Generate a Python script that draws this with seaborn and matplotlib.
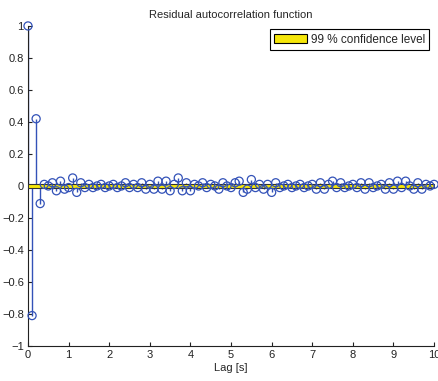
import numpy as np
import pandas as pd
import matplotlib
matplotlib.use("Agg")
import matplotlib.pyplot as plt
from matplotlib.patches import Patch
from matplotlib.ticker import FuncFormatter
import seaborn as sns

# Residual autocorrelation at lags 0..10 s, step 0.1 s
lags = [round(0.1 * i, 1) for i in range(101)]
acf = [
    1.00, -0.81, 0.42, -0.11, 0.01, 0.00, 0.02, -0.03, 0.03, -0.02,
    -0.01, 0.05, -0.04, 0.02, -0.01, 0.01, -0.01, 0.00, 0.01, -0.01,
    0.00, 0.01, -0.01, 0.00, 0.02, -0.01, 0.01, -0.01, 0.02, -0.02,
    0.01, -0.02, 0.03, -0.02, 0.03, -0.03, 0.01, 0.05, -0.03, 0.02,
    -0.03, 0.01, 0.00, 0.02, -0.01, 0.01, 0.00, -0.02, 0.02, 0.00,
    -0.01, 0.02, 0.03, -0.04, -0.02, 0.04, -0.01, 0.01, -0.02, 0.01,
    -0.04, 0.02, -0.01, 0.00, 0.01, -0.01, 0.00, 0.01, -0.01, 0.00,
    0.01, -0.02, 0.02, -0.02, 0.01, 0.03, -0.01, 0.02, -0.01, 0.00,
    0.01, -0.01, 0.02, -0.02, 0.02, -0.01, 0.00, 0.01, -0.02, 0.02,
    -0.02, 0.03, -0.01, 0.03, 0.00, -0.02, 0.02, -0.02, 0.01, 0.00,
    0.01,
]
conf_level = 0.013  # 99 % confidence bound
xticks = list(range(0, 11))
yticks = [round(-1 + 0.2 * i, 1) for i in range(11)]

df = pd.DataFrame({"lag": lags, "acf": acf})

sns.set_style("ticks")
plt.rcParams["font.family"] = ["Liberation Sans", "DejaVu Sans"]

fig = plt.figure(figsize=(4.39, 3.81), dpi=100)
ax = fig.add_axes([0.0638, 0.0919, 0.925, 0.84])

stem_color = "#3352b8"
ax.vlines(df["lag"], 0, df["acf"], color=stem_color, lw=1.0, zorder=2)
sns.scatterplot(data=df, x="lag", y="acf", ax=ax, marker="o", s=34,
                facecolor="none", edgecolor=stem_color, linewidth=0.9,
                zorder=4, legend=False, clip_on=False)

ax.fill_between([0, 10], -conf_level, conf_level, facecolor="#f5e60a",
                edgecolor="#333333", lw=0.8, zorder=3)

ax.set_xlim(0, 10)
ax.set_ylim(-1, 1)
ax.set_xticks(xticks)
ax.set_yticks(yticks)
ax.yaxis.set_major_formatter(FuncFormatter(
    lambda v, p: ("%g" % round(v, 1)).replace("-", "\u2212") if abs(v) > 1e-9 else "0"))
ax.xaxis.set_major_formatter(FuncFormatter(lambda v, p: "%d" % v))
ax.tick_params(direction="in", length=3, width=0.8, labelsize=8, colors="#222222", pad=3)
for s in ("top", "right"):
    ax.spines[s].set_visible(False)
for s in ("left", "bottom"):
    ax.spines[s].set_linewidth(0.8)
    ax.spines[s].set_color("#222222")

ax.set_xlabel("Lag [s]", fontsize=8, labelpad=2)
ax.set_ylabel("")
ax.set_title("Residual autocorrelation function", fontsize=8, pad=6)

handle = Patch(facecolor="#f5e60a", edgecolor="black", lw=0.8)
ax.legend([handle], ["99 % confidence level"], loc="upper right",
          bbox_to_anchor=(0.997, 1.0), fontsize=8.5, frameon=True,
          fancybox=False, edgecolor="black", framealpha=1,
          handlelength=2.8, handleheight=0.8, borderpad=0.35,
          handletextpad=0.3, borderaxespad=0.3)
ax.get_legend().get_frame().set_linewidth(0.8)

fig.savefig("out.png", dpi=100)
